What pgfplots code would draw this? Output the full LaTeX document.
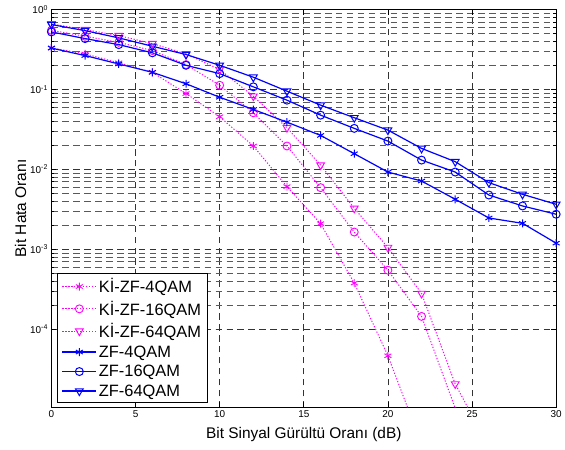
\documentclass[border=0pt]{standalone}
\usepackage{fontspec}
\setmainfont{Liberation Sans}
\usepackage{pgfplots}
\pgfplotsset{compat=1.18}
\definecolor{mg}{rgb}{1,0,1}
\definecolor{bl}{rgb}{0,0,1}
\newcommand{\lf}{\fontsize{15.5}{18}\selectfont}
\newcommand{\gf}{\fontsize{16.5}{19}\selectfont}
\begin{document}
\begin{tikzpicture}
\begin{axis}[
  scale only axis,
  width=507.3pt, height=399.6pt,
  ymode=log,
  xmin=0, xmax=30, ymin=1.05e-5, ymax=1,
  xtick={0,5,10,15,20,25,30},
  ytick={1e-4,1e-3,1e-2,1e-1,1},
  yticklabels={10\textsuperscript{-4},10\textsuperscript{-3},10\textsuperscript{-2},10\textsuperscript{-1},10\textsuperscript{0}},
  /pgf/number format/assume math mode=true,
  tick label style={font=\fontsize{10}{12}\selectfont},
  tick align=inside,
  major tick length=5pt, minor tick length=3pt,
  every tick/.style={black, line width=0.6pt},
  axis line style={line width=0.9pt},
  xmajorgrids, ymajorgrids, yminorgrids,
  major grid style={dash pattern=on 6.5pt off 4.5pt, black!80, line width=0.7pt},
  minor grid style={dash pattern=on 6.5pt off 4.5pt, black!65, line width=0.7pt},
  xlabel={Bit Sinyal Gürültü Oranı (dB)},
  ylabel={Bit Hata Oranı},
  ylabel style={yshift=-3pt},
  xlabel style={yshift=-3pt},
  label style={font=\lf},
  legend style={at={(rel axis cs:0.012,0.011)}, anchor=south west, draw=black, line width=0.6pt, fill=white, inner xsep=4pt, inner ysep=3pt, row sep=2.6pt},
  legend cell align=left,
  legend image code/.code={\draw[#1] (0mm,0mm) -- (12mm,0mm); \draw[#1, mark repeat=2, mark phase=2] plot coordinates {(0mm,0mm) (6mm,0mm) (12mm,0mm)};},
]
\addplot[mg, line width=1pt, dash pattern=on 1.2pt off 1.8pt, mark=asterisk, mark size=4pt, mark options={solid, line width=0.9pt}] coordinates {
(0,0.332) (2,0.279) (4,0.216) (6,0.164) (8,0.089) (10,0.0456) (12,0.0196) (14,0.00608) (16,0.00209) (18,3.76e-4) (20,4.63e-5) (22,3.6e-6)};
\addlegendentry{\gf Kİ-ZF-4QAM}
\addplot[mg, line width=1pt, dash pattern=on 1.2pt off 1.8pt, mark=o, mark size=4pt, mark options={solid, line width=0.9pt}] coordinates {
(0,0.551) (2,0.464) (4,0.390) (6,0.307) (8,0.205) (10,0.113) (12,0.0511) (14,0.0196) (16,0.0059) (18,0.00164) (20,5.46e-4) (22,1.44e-4) (24,1.02e-5) (26,4.4e-7)};
\addlegendentry{\gf Kİ-ZF-16QAM}
\addplot[mg, line width=1pt, dash pattern=on 1.2pt off 1.8pt, mark=triangle, mark size=4.5pt, mark options={solid, rotate=180, line width=0.9pt}] coordinates {
(0,0.663) (2,0.562) (4,0.473) (6,0.376) (8,0.279) (10,0.178) (12,0.0824) (14,0.0332) (16,0.0113) (18,0.00325) (20,0.00105) (22,2.79e-4) (24,2.05e-5) (26,3.35e-6)};
\addlegendentry{\gf Kİ-ZF-64QAM}
\addplot[bl, line width=1.2pt, mark=asterisk, mark size=4pt, mark options={solid, line width=1pt}] coordinates {
(0,0.33) (2,0.266) (4,0.209) (6,0.164) (8,0.118) (10,0.080) (12,0.0562) (14,0.039) (16,0.0266) (18,0.0157) (20,0.00925) (22,0.00714) (24,0.00422) (26,0.00246) (28,0.00211) (30,0.00119)};
\addlegendentry{\gf ZF-4QAM}
\addplot[bl, line width=1.2pt, mark=o, mark size=4pt, mark options={solid, line width=1pt}] coordinates {
(0,0.526) (2,0.434) (4,0.365) (6,0.288) (8,0.201) (10,0.158) (12,0.108) (14,0.0735) (16,0.0477) (18,0.0326) (20,0.0226) (22,0.01306) (24,0.00925) (26,0.00477) (28,0.00348) (30,0.00274)};
\addlegendentry{\gf ZF-16QAM}
\addplot[bl, line width=1.2pt, mark=triangle, mark size=4.5pt, mark options={solid, rotate=180, line width=1pt}] coordinates {
(0,0.65) (2,0.546) (4,0.443) (6,0.348) (8,0.274) (10,0.201) (12,0.1425) (14,0.0953) (16,0.0637) (18,0.0443) (20,0.031) (22,0.0183) (24,0.01248) (26,0.00682) (28,0.00487) (30,0.00365)};
\addlegendentry{\gf ZF-64QAM}
\end{axis}
\path (current axis.south west) ++(-51.7pt,-42.7pt) coordinate (bbA);
\path (current axis.north east) ++(6pt,9.7pt) coordinate (bbB);
\path (bbA) rectangle (bbB);
\end{tikzpicture}
\end{document}
